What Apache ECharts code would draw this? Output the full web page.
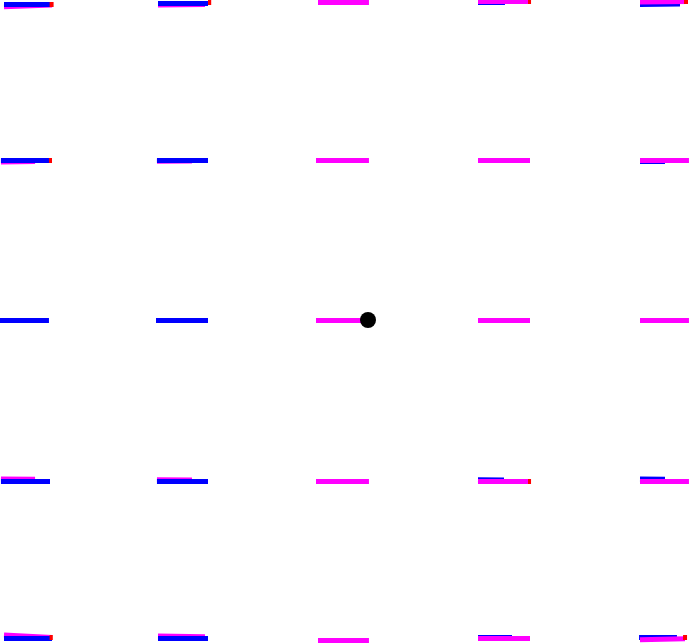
<!DOCTYPE html>
<html><head><meta charset="utf-8">
<script src="https://cdn.jsdelivr.net/npm/echarts@6/dist/echarts.min.js"></script>
<style>html,body{margin:0;padding:0;background:#fff}#c{width:690px;height:643px}</style>
</head><body><div id="c"></div>
<script>
// segments in data units: [[x1,y1],[x2,y2]]
const magentaUnder = [
  [[-2.275,1.958],[-1.975,1.969]], [[-1.3125,1.969],[-1.019,1.972]],
  [[-2.294,0.988],[-2.081,0.99]], [[-1.319,0.992],[-1.1,0.994]],
  [[-2.294,-0.994],[-2.081,-0.996]], [[-1.319,-0.998],[-1.1,-1.0]],
  [[-2.275,-1.969],[-1.975,-1.985]], [[-1.3125,-1.975],[-1.019,-1.98]]
];
const blueOver = [
  [[-2.275,1.975],[-1.975,1.975]], [[-1.3125,1.981],[-1.0,1.981]],
  [[-2.294,1.0],[-1.9875,1.0]], [[-1.319,1.0],[-1.0,1.0]],
  [[-2.3,0],[-1.994,0]], [[-1.325,0],[-1.0,0]],
  [[-2.294,-1.006],[-1.9875,-1.006]], [[-1.319,-1.006],[-1.0,-1.006]],
  [[-2.275,-1.99],[-1.975,-1.99]], [[-1.3125,-1.99],[-1.0,-1.99]]
];
const magentaCentre = [
  [[-0.3125,1.9875],[0.006,1.9875]], [[-0.325,1.0],[0.006,1.0]],
  [[-0.325,0],[0,0]], [[-0.325,-1.006],[0.006,-1.006]],
  [[-0.3125,-2.003],[0.006,-2.003]]
];
const blueUnder = [
  [[0.6875,1.983],[0.856,1.984]], [[1.7,1.972],[1.95,1.975]],
  [[1.7,0.99],[1.856,0.992]],
  [[0.6875,-0.998],[0.85,-1.0]], [[1.7,-0.994],[1.856,-0.996]],
  [[0.6875,-1.98],[0.9,-1.982]], [[1.694,-1.98],[1.931,-1.98]]
];
const magentaOver = [
  [[0.6875,1.991],[1.0125,1.991]], [[1.7,1.9875],[2.0,1.99]],
  [[0.6875,1.0],[1.0125,1.0]], [[1.7,1.0],[2.006,1.0]],
  [[0.6875,0],[1.0125,0]], [[1.7,0],[2.006,0]],
  [[0.6875,-1.006],[1.0125,-1.006]], [[1.7,-1.006],[2.006,-1.006]],
  [[0.6875,-1.99],[1.0125,-1.99]], [[1.7,-1.998],[1.981,-1.992]]
];
const redTips = [
  [[-1.99,1.972],[-1.965,1.972]], [[-1.0,1.985],[-0.98,1.985]],
  [[1.0,1.99],[1.019,1.99]], [[1.975,1.99],[2.0,1.99]],
  [[-1.994,1.0],[-1.975,1.0]], [[1.0,-1.006],[1.019,-1.006]],
  [[-1.99,-1.98],[-1.97,-1.98]], [[1.969,-1.985],[1.994,-1.985]]
];
const charge = [[0,0]];

function layer(segs, color, z){
  return {type:'lines', coordinateSystem:'cartesian2d', z:z, silent:true,
    lineStyle:{color:color, width:5, opacity:1, cap:'butt'},
    data: segs.map(s=>({coords:s}))};
}
const chart = echarts.init(document.getElementById('c'));
chart.setOption({
  animation:false,
  grid:{left:0,right:0,top:0,bottom:0},
  xAxis:{type:'value', min:-2.3, max:2.0125, show:false},
  yAxis:{type:'value', min:-2.01875, max:2.0, show:false},
  series:[
    layer(magentaUnder,'#ff00ff',2),
    layer(blueOver,'#0000ff',3),
    layer(magentaCentre,'#ff00ff',3),
    layer(blueUnder,'#0000ff',2),
    layer(magentaOver,'#ff00ff',3),
    layer(redTips,'#ff0000',4),
    {type:'scatter', data:charge, symbolSize:16, itemStyle:{color:'#000', opacity:1}, z:5, silent:true}
  ]
});
</script></body></html>
